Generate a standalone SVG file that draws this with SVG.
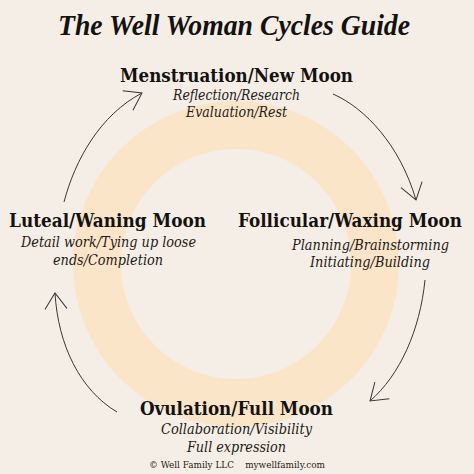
<svg xmlns="http://www.w3.org/2000/svg" width="474" height="474" viewBox="0 0 474 474">
<defs>
<marker id="ah" markerUnits="userSpaceOnUse" markerWidth="40" markerHeight="40" viewBox="-20 -20 40 40" refX="0" refY="0" orient="auto">
<path d="M-16,-11 L0,0 L-16,11" fill="none" stroke="#3a3633" stroke-width="1"/>
</marker>
</defs>
<style>
.t{font-family:"Liberation Serif",serif;font-style:italic;font-weight:bold;font-size:30px;fill:#141210}
.h{font-family:"DejaVu Serif",serif;font-weight:bold;font-size:19px;fill:#141210;text-anchor:middle}
.s{font-family:"DejaVu Serif",serif;font-style:italic;font-size:14.5px;fill:#1e1b18;text-anchor:middle}
.f{font-family:"DejaVu Serif",serif;font-size:10px;fill:#1e1b18;text-anchor:middle}
.c{fill:none;stroke:#3a3633;stroke-width:1;marker-end:url(#ah)}
</style>
<rect width="474" height="474" fill="#f5eee6"/>
<circle cx="236" cy="264" r="139" fill="none" stroke="#fae5c9" stroke-width="48"/>
<text class="t" x="234" y="35" text-anchor="middle" textLength="352" lengthAdjust="spacingAndGlyphs">The Well Woman Cycles Guide</text>
<g id="connectors">
<path class="c" d="M64,202 C75,160 100,115 142,93"/>
<path class="c" d="M333,94 C365,108 400,145 416,200"/>
<path class="c" d="M425,280 C420,330 400,375 370,401"/>
<path class="c" d="M117,412 C80,390 58,345 55,293"/>
</g>
<g id="menstruation">
<text class="h" x="236.5" y="82" textLength="233" lengthAdjust="spacingAndGlyphs">Menstruation/New Moon</text>
<text class="s" x="236.5" y="100" textLength="127" lengthAdjust="spacingAndGlyphs">Reflection/Research</text>
<text class="s" x="236.5" y="117" textLength="101" lengthAdjust="spacingAndGlyphs">Evaluation/Rest</text>
</g>
<g id="luteal">
<text class="h" x="107.5" y="227" textLength="197" lengthAdjust="spacingAndGlyphs">Luteal/Waning Moon</text>
<text class="s" x="108.5" y="247" textLength="175" lengthAdjust="spacingAndGlyphs">Detail work/Tying up loose</text>
<text class="s" x="108" y="265" textLength="110" lengthAdjust="spacingAndGlyphs">ends/Completion</text>
</g>
<g id="follicular">
<text class="h" x="350" y="227" textLength="224" lengthAdjust="spacingAndGlyphs">Follicular/Waxing Moon</text>
<text class="s" x="370.5" y="250" textLength="157" lengthAdjust="spacingAndGlyphs">Planning/Brainstorming</text>
<text class="s" x="370" y="267" textLength="120" lengthAdjust="spacingAndGlyphs">Initiating/Building</text>
</g>
<g id="ovulation">
<text class="h" x="236.5" y="415" textLength="193" lengthAdjust="spacingAndGlyphs">Ovulation/Full Moon</text>
<text class="s" x="236.5" y="434" textLength="151" lengthAdjust="spacingAndGlyphs">Collaboration/Visibility</text>
<text class="s" x="236.5" y="452" textLength="99" lengthAdjust="spacingAndGlyphs">Full expression</text>
</g>
<text class="f" x="237" y="468" textLength="176" lengthAdjust="spacingAndGlyphs" xml:space="preserve">© Well Family LLC    mywellfamily.com</text>
</svg>
